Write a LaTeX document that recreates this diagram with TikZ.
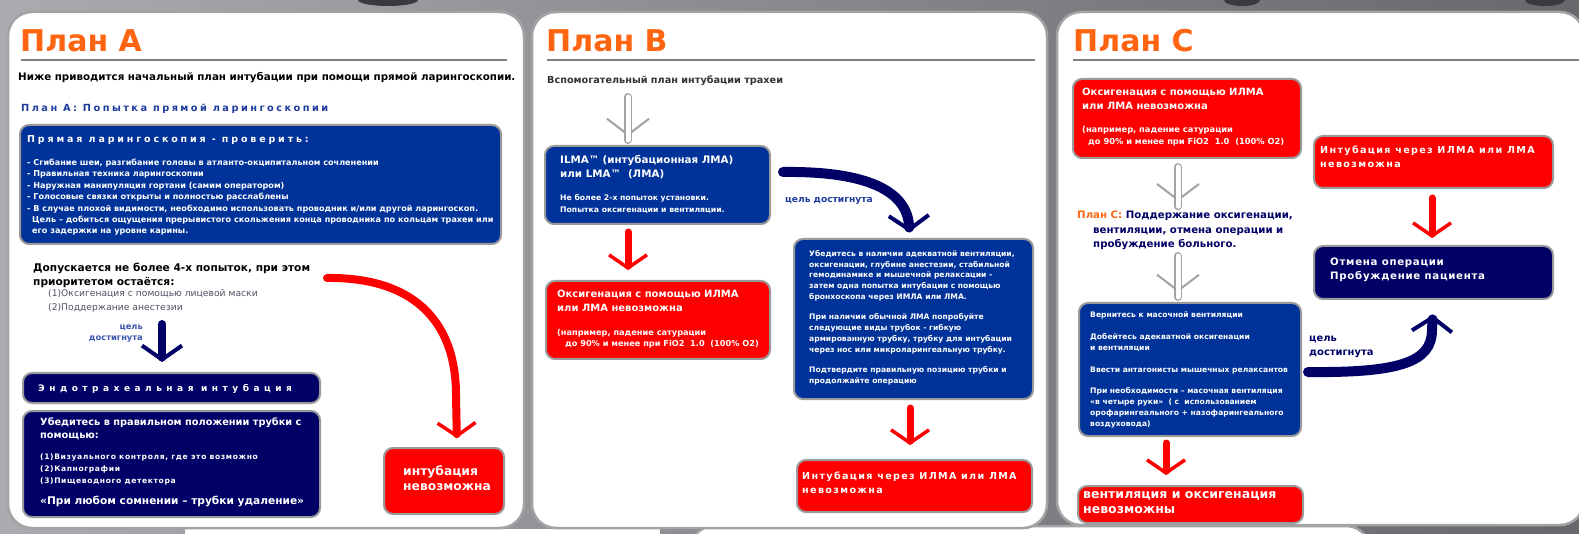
\documentclass[tikz,border=0pt]{standalone}
\usepackage{fontspec}
\setmainfont{DejaVu Sans}
\usetikzlibrary{arrows.meta}
\definecolor{bgleft}{HTML}{ABAAAF}
\definecolor{bgright}{HTML}{68676C}
\definecolor{bgdark}{HTML}{3A393E}
\definecolor{planorange}{HTML}{FF6511}
\definecolor{boxblue}{HTML}{003399}
\definecolor{boxnavy}{HTML}{000066}
\definecolor{arrred}{HTML}{FF0000}
\definecolor{boxgray}{HTML}{9A9A9A}
\definecolor{panelgray}{HTML}{A3A3A6}
\definecolor{subblue}{HTML}{1E3C9E}
\definecolor{goalblue}{HTML}{3A55B0}
\definecolor{textgray}{HTML}{4D5260}
\newcommand{\fsz}[2]{\fontsize{#1}{#2}\selectfont}
\newcommand{\lsp}[1]{\addfontfeatures{LetterSpace=#1}}
\begin{document}
\begin{tikzpicture}[x=1pt,y=-1pt,
  panel/.style={draw=panelgray,line width=2.5pt,fill=white,rounded corners=24pt},
  rule/.style={draw=gray,line width=1.3pt},
  title/.style={anchor=base west,inner sep=0pt,text=planorange,font=\fsz{30}{36}\bfseries},
  box/.style={draw=boxgray,line width=2pt,rounded corners=9pt,inner sep=0pt,anchor=north west},
  txt/.style={anchor=base west,inner sep=0pt,align=left,text=white},
  redarr/.style={draw=arrred,line width=7pt,line cap=round,-{Straight Barb[length=13pt,width=38pt,line width=3.5pt]}},
  navyarr/.style={draw=boxnavy,line width=9pt,line cap=round,-{Straight Barb[length=14pt,width=40pt,line width=4pt]}},
  hollowarr/.style={draw=panelgray,line width=1.5pt,-{Straight Barb[length=16pt,width=42pt,line width=2pt]},
    postaction={draw=panelgray,-,double=white,double distance=5pt,line width=1.5pt,line cap=round,shorten >=5pt}}]
\useasboundingbox (0,0) rectangle (1579,534);
\clip (0,0) rectangle (1579,534);
\shade[left color=bgleft,right color=bgright] (0,0) rectangle (1579,534);
\fill[bgdark] (388,0) ellipse (30 and 6);
\fill[bgdark] (1242,0) ellipse (18 and 6);
\fill[bgdark] (1545,0) ellipse (20 and 6);
\fill[white] (185,529) rectangle (660,540);
\draw[panel] (690,526) rectangle (1370,570);
\draw[panel] (8,12) rectangle (524,528);
\draw[panel] (532,12) rectangle (1047,528);
\draw[panel] (1057,12) rectangle (1584,525);

\node[title] (titleA) at (20,52) {План А};
\draw[rule] (21,60) -- (507,60);
\node[txt,text=black,font=\fsz{10.3}{12}\bfseries] (introA) at (18,81) {Ниже приводится начальный план интубации при помощи прямой ларингоскопии.};
\node[txt,text=subblue,font=\fsz{9.8}{12}\bfseries\lsp{25}] (subA) at (21,112) {План А: Попытка прямой ларингоскопии};
\node[box,fill=boxblue,minimum width=481,minimum height=119] (checkA) at (19,124) {};
\node[txt,font=\fsz{9.5}{12}\bfseries\lsp{30}] (checkAhead) at (27,143) {Прямая ларингоскопия - проверить:};
\node[txt,font=\fsz{8.1}{11.4}\bfseries] (checkAlist) at (27,234) {- Сгибание шеи, разгибание головы в атланто-окципитальном сочленении\\- Правильная техника ларингоскопии\\- Наружная манипуляция гортани (самим оператором)\\- Голосовые связки открыты и полностью расслаблены\\- В случае плохой видимости, необходимо использовать проводник и/или другой ларингоскоп.\\\hspace*{5pt}Цель – добиться ощущения прерывистого скольжения конца проводника по кольцам трахеи или\\\hspace*{5pt}его задержки на уровне карины.};
\node[txt,text=black,font=\fsz{10.6}{14}\bfseries] (attempts) at (33,285.5) {Допускается не более 4-х попыток, при этом\\приоритетом остаётся:};
\node[txt,text=textgray,font=\fsz{9.2}{14}] (prio) at (48,311) {(1)Оксигенация с помощью лицевой маски\\(2)Поддержание анестезии};
\node[txt,anchor=base east,align=right,text=goalblue,font=\fsz{8.3}{11}\bfseries] (goalA) at (143,341) {цель\\достигнута};
\coordinate (goAstart) at (162,324);
\node[box,fill=boxnavy,minimum width=297,minimum height=30] (endo) at (22,372) {};
\node[txt,font=\fsz{9}{12}\bfseries\lsp{50}] (endotext) at (38,391.5) {Эндотрахеальная интубация};
\node[box,fill=boxnavy,minimum width=297,minimum height=106] (confirm) at (22,410) {};
\node[txt,font=\fsz{9.8}{13}\bfseries] (confirmhead) at (40,438) {Убедитесь в правильном положении трубки с\\помощью:};
\node[txt,font=\fsz{7.6}{12}\bfseries\lsp{8}] (confirmlist) at (40,483) {(1)Визуального контроля, где это возможно\\(2)Капнографии\\(3)Пищеводного детектора};
\node[txt,font=\fsz{10.6}{12}\bfseries] (confirmnote) at (40,504) {«При любом сомнении – трубки удаление»};
\node[box,fill=arrred,minimum width=120,minimum height=66] (failA) at (383,447) {};
\node[txt,font=\fsz{12.3}{14.5}\bfseries] (failAtext) at (403,490) {интубация\\невозможна};
\coordinate (failAstart) at (327,278);
\draw[navyarr,line width=8pt,shorten >=10pt] (goAstart) -- (goAstart |- endo.north);
\draw[redarr,line width=8pt,shorten >=9pt] (failAstart) .. controls (410,277) and (456,318) .. (456,395) -- ([xshift=13pt]failA.north);

\node[title] (titleB) at (546,52) {План В};
\draw[rule] (547,60) -- (1035,60);
\node[txt,text=black!80,font=\fsz{9.7}{12}\bfseries] (introB) at (547,83.5) {Вспомогательный план интубации трахеи};
\coordinate (hollowB) at (628,97);
\node[box,fill=boxblue,minimum width=225,minimum height=78] (ilma) at (544,145) {};
\node[txt,font=\fsz{10.3}{14}\bfseries] (ilmahead) at (560,178) {ILMA™ (интубационная ЛМА)\\или LMA™\ \ (ЛМА)};
\node[txt,font=\fsz{7.7}{12}\bfseries] (ilmanote) at (560,213) {Не более 2-х попыток установки.\\Попытка оксигенации и вентиляции.};
\node[txt,text=subblue,font=\fsz{9.1}{11}\bfseries] (goalB) at (785,202.5) {цель достигнута};
\coordinate (goBstart) at (783,172);
\coordinate (redB1) at (628,232);
\node[box,fill=arrred,minimum width=224,minimum height=78] (failB) at (545,280) {};
\node[txt,font=\fsz{10}{14}\bfseries] (failBhead) at (557,312) {Оксигенация с помощью ИЛМА\\или ЛМА невозможна};
\node[txt,font=\fsz{8.2}{11}\bfseries] (failBnote) at (557,347) {(например, падение сатурации\\\hspace*{8pt}до 90\% и менее при FiO2\ \ 1.0\ \ (100\% O2)};
\node[box,fill=boxblue,minimum width=239,minimum height=160] (checkB) at (793,238) {};
\node[txt,font=\fsz{7.6}{10.7}\bfseries] (checkBtext) at (809,383.5) {Убедитесь в наличии адекватной вентиляции,\\оксигенации, глубине анестезии, стабильной\\гемодинамике и мышечной релаксации -\\затем одна попытка интубации с помощью\\бронхоскопа через ИМЛА или ЛМА.\\[10pt]При наличии обычной ЛМА попробуйте\\следующие виды трубок - гибкую\\армированную трубку, трубку для интубации\\через нос или микроларингеальную трубку.\\[10pt]Подтвердите правильную позицию трубки и\\продолжайте операцию};
\coordinate (redB2) at (910,408);
\node[box,fill=arrred,minimum width=235,minimum height=52] (failB2) at (796,459) {};
\node[txt,font=\fsz{9.6}{14}\bfseries\lsp{14}] (failB2text) at (802,493) {Интубация через ИЛМА или ЛМА\\невозможна};
\draw[hollowarr,shorten >=9pt] (hollowB) -- (hollowB |- ilma.north);
\draw[navyarr,line width=10pt,shorten >=6pt] (goBstart) .. controls (865,171) and (908,190) .. ([xshift=-4pt]checkB.north);
\draw[redarr,shorten >=10pt] (redB1) -- (redB1 |- failB.north);
\draw[redarr,shorten >=14pt] (redB2) -- (redB2 |- failB2.north);

\node[title] (titleC) at (1073,52) {План С};
\draw[rule] (1073,60) -- (1579,60);
\node[box,fill=arrred,minimum width=228,minimum height=79] (failC) at (1072,78) {};
\node[txt,font=\fsz{10}{14}\bfseries] (failChead) at (1082,110) {Оксигенация с помощью ИЛМА\\или ЛМА невозможна};
\node[txt,font=\fsz{8.3}{12}\bfseries] (failCnote) at (1082,145) {(например, падение сатурации\\\hspace*{6pt}до 90\% и менее при FiO2\ \ 1.0\ \ (100\% O2)};
\coordinate (hollowC1) at (1178,167);
\node[txt,text=boxnavy,font=\fsz{10.2}{14.5}\bfseries] (planC) at (1077,248) {{\color{planorange}План С:} Поддержание оксигенации,\\\hspace*{16pt}вентиляции, отмена операции и\\\hspace*{16pt}пробуждение больного.};
\coordinate (hollowC2) at (1178,256);
\node[box,fill=boxblue,minimum width=222,minimum height=133] (maskC) at (1078,302) {};
\node[txt,font=\fsz{7.6}{11}\bfseries] (maskCtext) at (1090,426.5) {Вернитесь к масочной вентиляции\\[11pt]Добейтесь адекватной оксигенации\\и вентиляции\\[11pt]Ввести антагонисты мышечных релаксантов\\[10pt]При необходимости – масочная вентиляция\\«в четыре руки»\ \ ( с\ \ использованием\\орофарингеального + назофарингеального\\воздуховода)};
\coordinate (redC3) at (1166,443);
\node[box,fill=arrred,minimum width=225,minimum height=37] (failC3) at (1077,485) {};
\node[txt,font=\fsz{12.5}{15}\bfseries] (failC3text) at (1083,513.5) {вентиляция и оксигенация\\невозможны};
\node[box,fill=arrred,minimum width=239,minimum height=52] (failC4) at (1313,135) {};
\node[txt,font=\fsz{9.6}{14}\bfseries\lsp{14}] (failC4text) at (1320,168) {Интубация через ИЛМА или ЛМА\\невозможна};
\coordinate (redC4) at (1432,198);
\node[box,fill=boxnavy,minimum width=239,minimum height=53] (cancelC) at (1313,245) {};
\node[txt,font=\fsz{10.2}{14}\bfseries\lsp{7}] (cancelCtext) at (1330,280) {Отмена операции\\Пробуждение пациента};
\node[txt,text=boxnavy,font=\fsz{9.9}{14}\bfseries] (goalC) at (1309,355.5) {цель\\достигнута};
\coordinate (goCstart) at (1308,372);
\draw[hollowarr,shorten >=10pt] (hollowC1) -- (hollowC1 |- planC.north);
\draw[hollowarr,shorten >=10pt] (hollowC2) -- (hollowC2 |- maskC.north);
\draw[redarr,shorten >=10pt] (redC3) -- (redC3 |- failC3.north);
\draw[redarr,shorten >=7pt] (redC4) -- (redC4 |- cancelC.north);
\draw[navyarr,line width=10pt,shorten >=15pt] (goCstart) .. controls (1400,373) and (1432,362) .. (1432,330) -- (cancelC.south);
\end{tikzpicture}
\end{document}
